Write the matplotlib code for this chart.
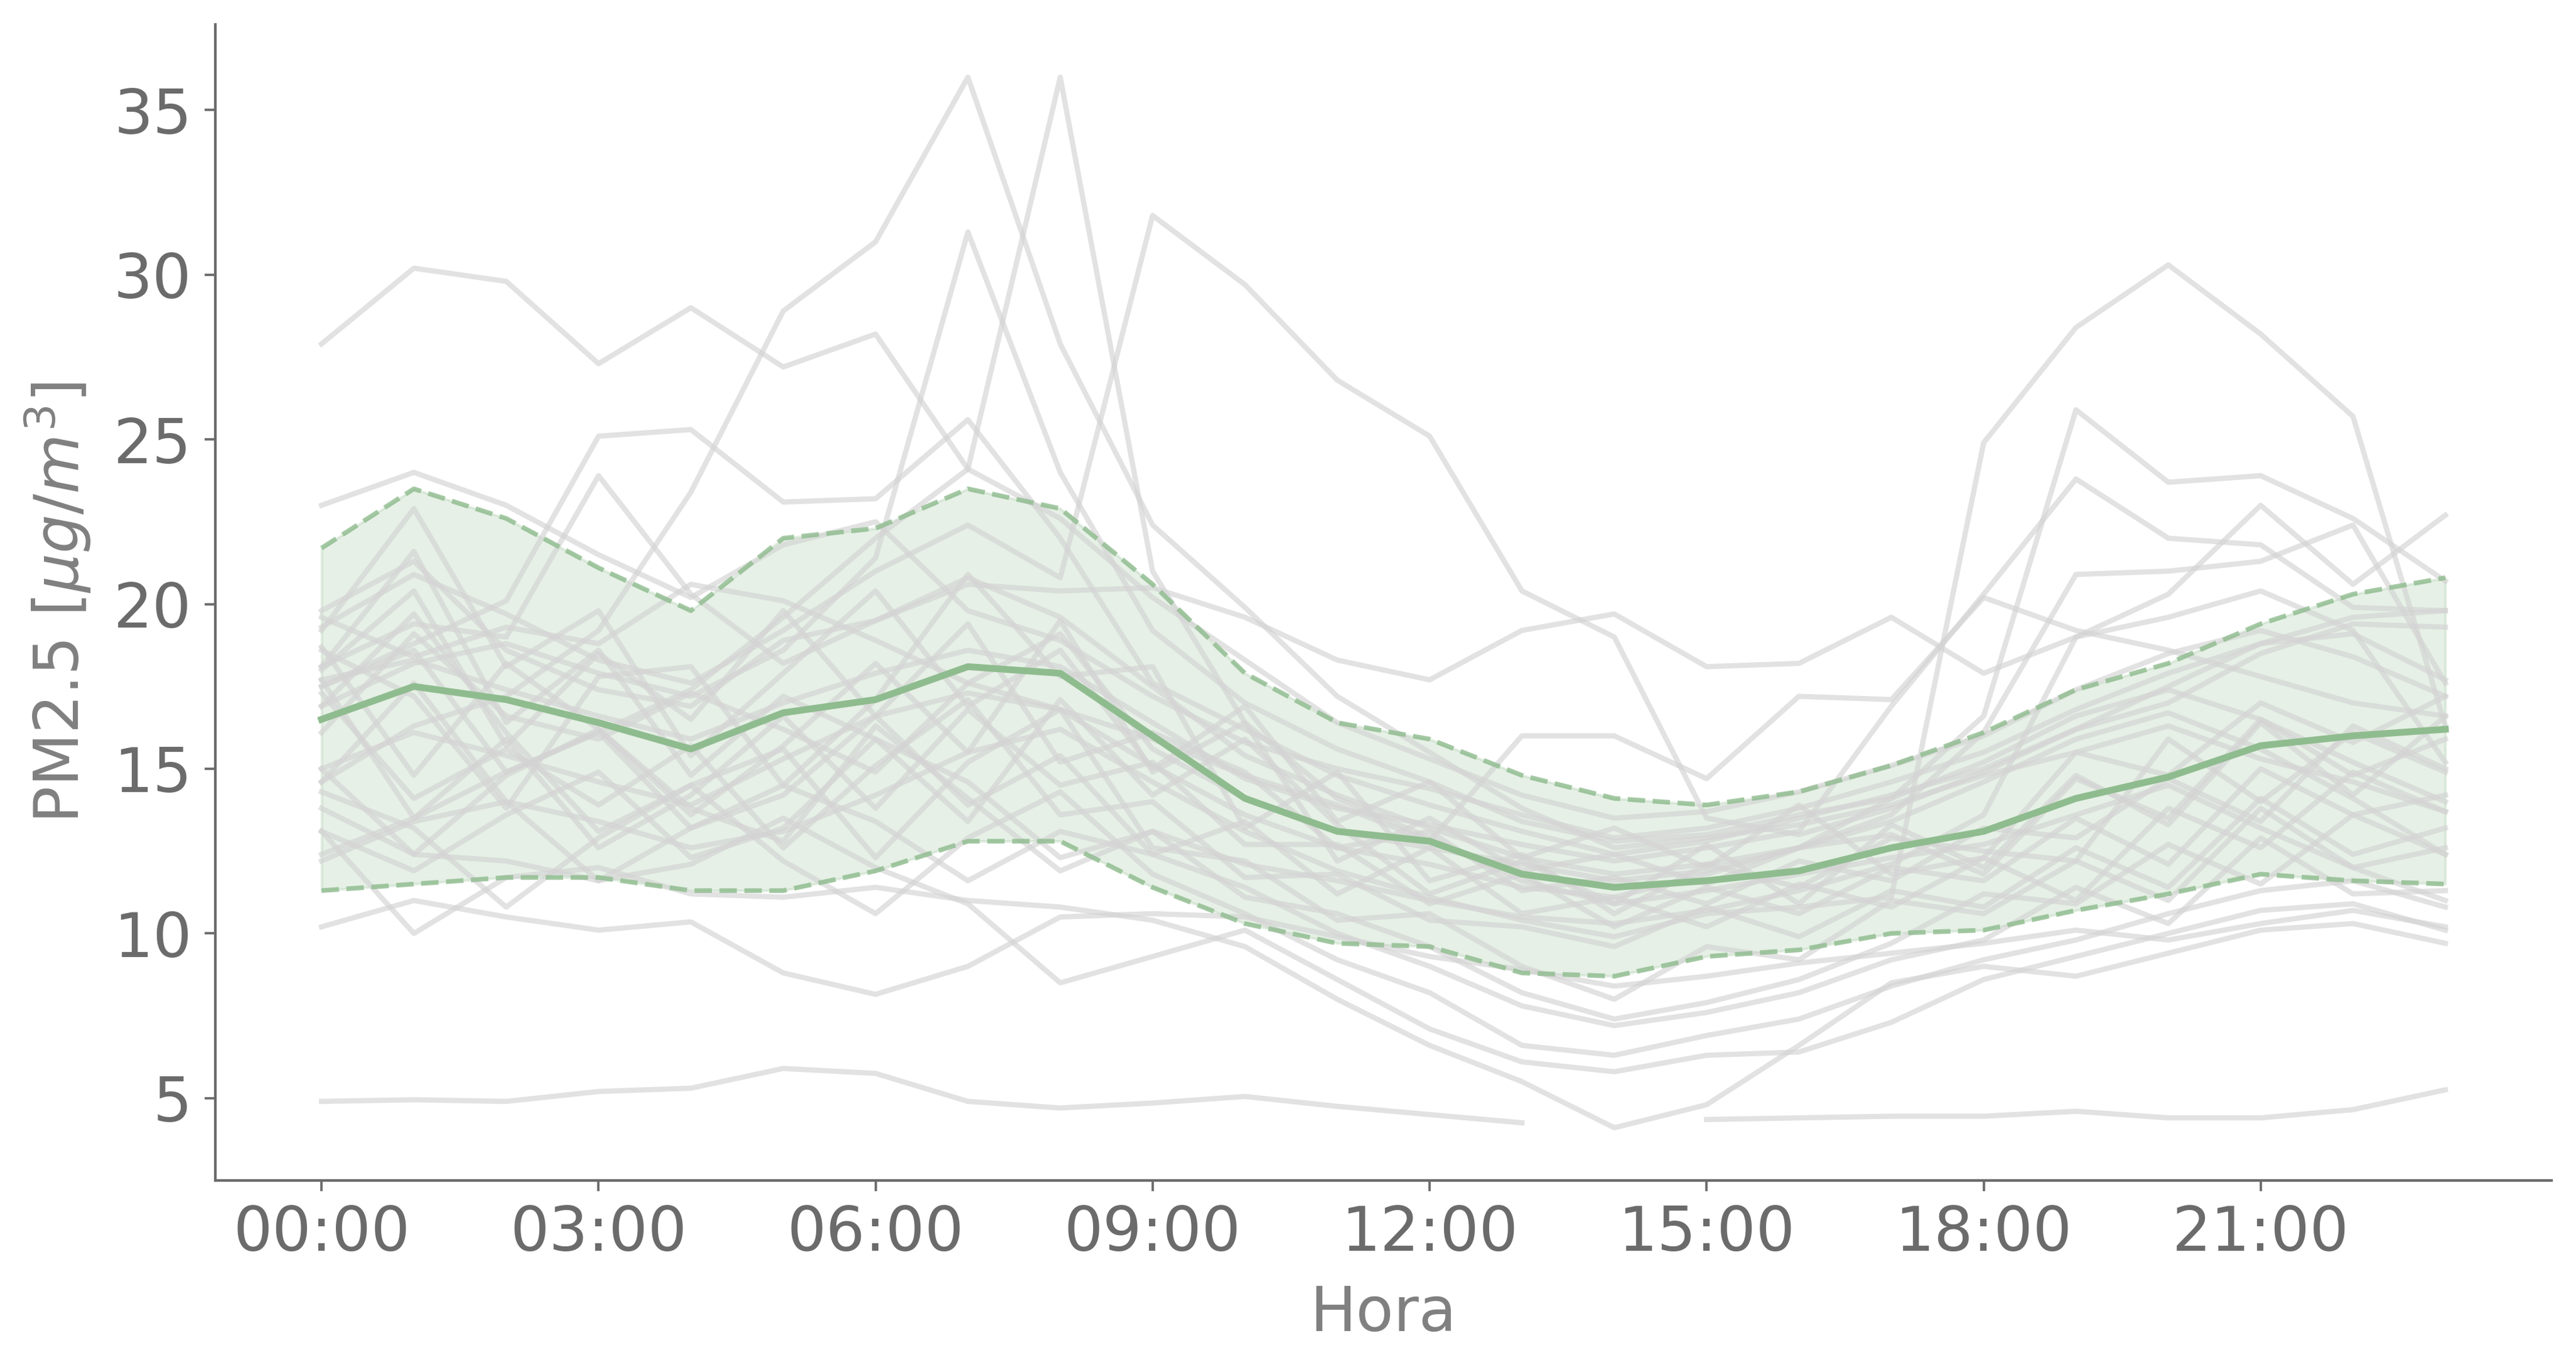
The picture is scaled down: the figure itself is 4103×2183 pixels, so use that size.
import numpy as np
import matplotlib
matplotlib.use("Agg")
import matplotlib.pyplot as plt

# ---------------- data ----------------
hours = list(range(24))
tick_hours = [0, 3, 6, 9, 12, 15, 18, 21]
tick_labels = ["00:00", "03:00", "06:00", "09:00", "12:00", "15:00", "18:00", "21:00"]

mean_pm = [16.5, 17.5, 17.1, 16.4, 15.6, 16.7, 17.1, 18.1, 17.9, 16.0, 14.1, 13.1,
           12.8, 11.8, 11.4, 11.6, 11.9, 12.6, 13.1, 14.1, 14.75, 15.7, 16.0, 16.2]
upper_pm = [21.7, 23.5, 22.6, 21.1, 19.8, 22.0, 22.3, 23.5, 22.9, 20.6, 17.9, 16.4,
            15.9, 14.8, 14.1, 13.9, 14.3, 15.1, 16.1, 17.4, 18.2, 19.4, 20.3, 20.8]
lower_pm = [11.3, 11.5, 11.7, 11.7, 11.3, 11.3, 11.9, 12.8, 12.8, 11.4, 10.3, 9.7,
            9.6, 8.8, 8.7, 9.3, 9.5, 10.0, 10.1, 10.7, 11.2, 11.8, 11.6, 11.5]

dia_01 = [27.9, 30.2, 29.8, 27.3, 29.0, 27.2, 28.2, 24.1, 22.6, 20.2, 18.3, 16.4, 15.3, 14.2, 13.5, 13.7, 14.3, 15.1, 16.0, 17.4, 18.5, 19.2, 18.4, 17.2]
dia_02 = [23.0, 24.0, 23.0, 21.5, 20.2, 21.8, 22.5, 19.8, 18.9, 17.2, 15.8, 15.0, 14.4, 13.6, 12.9, 13.2, 13.8, 14.6, 15.5, 16.8, 17.9, 18.8, 19.1, 17.7]
dia_03 = [17.5, 18.8, 20.1, 25.1, 25.3, 23.1, 23.2, 25.6, 22.0, 17.6, 16.2, 14.8, 13.9, 13.1, 12.4, 12.8, 13.5, 14.2, 15.0, 16.2, 17.0, 18.5, 19.4, 19.3]
dia_04 = [18.1, 19.4, 19.0, 23.9, 20.3, 18.2, 19.5, 20.8, 19.6, 17.5, 15.4, 14.2, 13.2, 12.3, 11.8, 12.1, 12.6, 13.4, 14.6, 15.9, 16.7, 15.6, 14.1, 12.4]
dia_05 = [14.6, 16.3, 17.2, 19.2, 23.4, 28.9, 31.0, 36.0, 27.9, 22.4, 19.9, 17.2, 15.5, 13.8, 12.6, 12.9, 13.3, 13.9, 14.8, 15.5, 16.3, 15.3, 14.6, 13.7]
dia_06 = [12.4, 13.5, 14.9, 16.1, 17.4, 19.6, 22.0, 24.1, 36.0, 21.0, 16.4, 14.1, 12.9, 11.6, 10.9, 11.3, 11.8, 12.3, 12.7, 13.6, 14.5, 13.2, 12.0, 11.0]
dia_07 = [19.3, 20.9, 19.7, 18.3, 17.6, 19.2, 21.0, 22.4, 20.8, 31.8, 29.7, 26.8, 25.1, 20.4, 19.0, 13.5, 13.0, 13.8, 14.9, 16.2, 17.5, 18.8, 19.6, 19.8]
dia_08 = [16.9, 18.2, 18.8, 17.9, 17.2, 18.6, 21.4, 31.3, 24.0, 19.2, 17.0, 15.6, 14.6, 13.4, 12.8, 13.0, 13.6, 14.1, 15.2, 16.6, 17.4, 16.5, 15.2, 14.0]
dia_09 = [12.2, 13.4, 14.0, 13.4, 12.6, 13.1, 14.2, 15.5, 16.2, 14.6, 13.1, 11.9, 11.1, 10.4, 9.9, 10.6, 10.8, 11.1, 24.9, 28.4, 30.3, 28.2, 25.7, 16.3]
dia_10 = [15.0, 16.1, 15.4, 14.6, 13.9, 15.3, 16.6, 17.3, 16.8, 15.1, 13.6, 12.6, 12.1, 11.4, 11.1, 11.8, 12.6, 14.1, 16.6, 25.9, 23.7, 23.9, 22.6, 20.7]
dia_11 = [17.7, 18.3, 17.4, 16.6, 15.9, 17.0, 17.9, 18.6, 18.1, 16.4, 14.7, 13.8, 13.3, 12.7, 12.2, 12.6, 13.1, 16.9, 20.3, 23.8, 22.0, 21.8, 19.9, 19.8]
dia_12 = [13.1, 11.9, 13.6, 14.9, 12.3, 13.2, 15.9, 14.6, 12.3, 13.1, 12.1, 11.6, 11.0, 10.5, 10.3, 10.7, 11.3, 12.1, 13.6, 19.0, 20.3, 23.0, 20.6, 22.7]
dia_13 = [16.1, 19.1, 16.6, 15.9, 17.3, 16.2, 14.9, 17.6, 19.1, 15.6, 14.1, 13.1, 12.6, 12.1, 11.6, 11.9, 12.6, 13.6, 16.1, 20.9, 21.0, 21.3, 22.4, 17.6]
dia_14 = [4.9, 4.95, 4.9, 5.2, 5.3, 5.9, 5.75, 4.9, 4.7, 4.85, 5.05, 4.75, 4.5, 4.25, np.nan, 4.35, 4.4, 4.45, 4.45, 4.6, 4.4, 4.4, 4.65, 5.25]
dia_15 = [10.2, 11.0, 10.5, 10.1, 10.35, 8.8, 8.15, 9.0, 10.5, 10.6, 10.5, 9.9, 9.3, 8.9, 8.4, 8.7, 9.1, 9.4, 9.7, 10.1, 9.8, 10.3, 10.7, 10.2]
dia_16 = [19.8, 21.3, 18.6, 17.4, 16.9, 18.9, 19.5, 20.6, 20.4, 20.5, 19.6, 18.3, 17.7, 19.2, 19.7, 18.1, 18.2, 19.6, 17.9, 19.0, 19.6, 20.4, 19.2, 15.2]
dia_17 = [19.6, 18.4, 19.3, 18.8, 20.6, 20.1, 18.9, 17.6, 16.8, 15.9, 14.8, 13.9, 12.8, 16.0, 16.0, 14.7, 17.2, 17.1, 20.2, 19.2, 18.6, 17.8, 17.0, 16.6]
dia_18 = [19.2, 22.9, 18.1, 19.8, 15.4, 17.9, 20.4, 16.9, 18.6, 15.0, 16.9, 13.4, 14.6, 12.3, 13.2, 12.0, 13.9, 11.8, 12.3, 15.5, 14.8, 17.0, 15.8, 17.2]
dia_19 = [18.7, 14.8, 18.2, 16.2, 13.6, 15.7, 18.2, 15.5, 19.5, 14.9, 16.4, 12.2, 13.5, 11.9, 12.4, 11.5, 12.6, 13.0, 11.8, 14.7, 13.5, 16.5, 14.8, 15.9]
dia_20 = [18.6, 17.2, 13.8, 17.8, 18.1, 14.5, 17.1, 20.9, 17.8, 18.1, 13.2, 14.9, 11.6, 12.4, 10.6, 12.1, 11.4, 12.9, 12.5, 12.2, 15.9, 14.0, 16.1, 14.9]
dia_21 = [18.1, 21.6, 16.4, 18.6, 14.8, 17.2, 15.9, 13.4, 17.1, 14.2, 15.9, 13.3, 11.2, 12.2, 10.9, 12.7, 10.9, 13.3, 12.0, 14.8, 13.3, 16.4, 14.2, 16.6]
dia_22 = [18.0, 20.4, 15.7, 18.5, 16.5, 19.8, 16.6, 19.4, 15.2, 16.1, 14.9, 12.6, 13.1, 11.3, 11.7, 10.9, 12.2, 11.6, 13.2, 12.9, 14.7, 13.4, 16.3, 15.0]
dia_23 = [17.7, 13.5, 15.9, 12.6, 14.2, 16.6, 13.8, 16.8, 14.5, 15.2, 12.7, 12.7, 10.9, 11.8, 10.2, 11.4, 10.6, 12.0, 11.6, 13.5, 12.1, 15.0, 13.6, 14.2]
dia_24 = [17.5, 18.6, 14.9, 16.1, 13.2, 14.2, 16.6, 13.9, 15.4, 12.4, 13.4, 11.2, 12.6, 10.6, 11.1, 10.2, 11.5, 10.8, 12.3, 11.0, 13.8, 12.6, 14.9, 13.7]
dia_25 = [17.3, 14.1, 15.6, 13.9, 15.7, 12.6, 15.1, 17.1, 13.6, 14.0, 11.7, 11.8, 10.4, 10.2, 9.6, 10.8, 9.9, 11.3, 10.8, 12.6, 11.4, 14.1, 12.4, 13.2]
dia_26 = [16.9, 19.7, 16.1, 13.1, 14.5, 15.6, 12.3, 15.2, 16.8, 12.6, 12.2, 10.4, 10.6, 9.0, 8.0, 9.6, 9.2, 11.0, 10.6, 12.2, 11.0, 13.8, 12.0, 12.6]
dia_27 = [15.0, 12.4, 14.8, 16.2, 13.8, 12.8, 16.3, 14.1, 11.9, 13.1, 11.1, 10.6, 9.6, 8.2, 7.4, 7.9, 8.6, 9.7, 11.2, 10.9, 12.7, 11.5, 13.6, 12.4]
dia_28 = [14.6, 17.6, 14.0, 11.6, 13.2, 14.5, 13.4, 11.6, 13.1, 12.4, 11.4, 10.0, 9.0, 7.8, 7.2, 7.6, 8.2, 9.2, 9.8, 11.4, 10.3, 12.9, 11.2, 11.3]
dia_29 = [14.3, 13.2, 10.8, 12.9, 14.5, 12.2, 10.6, 12.9, 14.3, 11.8, 10.6, 9.2, 8.2, 6.6, 6.3, 6.9, 7.4, 8.4, 9.2, 9.8, 10.6, 11.3, 11.6, 10.8]
dia_30 = [13.8, 12.4, 12.2, 11.6, 12.1, 13.5, 12.0, 10.9, 8.5, 9.3, 10.1, 8.6, 7.1, 6.1, 5.8, 6.3, 6.4, 7.3, 8.6, 9.3, 10.0, 10.7, 10.9, 10.1]
dia_31 = [13.1, 10.0, 11.7, 12.0, 11.2, 11.1, 11.4, 11.0, 10.8, 10.4, 9.6, 8.0, 6.6, 5.5, 4.1, 4.8, 6.6, 8.5, 9.0, 8.7, 9.4, 10.1, 10.3, 9.7]

dias = [dia_01, dia_02, dia_03, dia_04, dia_05, dia_06, dia_07, dia_08, dia_09, dia_10,
        dia_11, dia_12, dia_13, dia_14, dia_15, dia_16, dia_17, dia_18, dia_19, dia_20,
        dia_21, dia_22, dia_23, dia_24, dia_25, dia_26, dia_27, dia_28, dia_29, dia_30, dia_31]

# ---------------- style ----------------
GREEN = "#8fbc8f"
AX_COLOR = "#6b6b6b"
LABEL_COLOR = "#808080"

plt.rcParams["font.family"] = ["DejaVu Sans"]

fig = plt.figure(figsize=(4103 / 300, 2183 / 300), dpi=300)
ax = fig.add_axes([0.0836, 0.1385, 0.9069, 0.8435])

ax.fill_between(hours, lower_pm, upper_pm, color=GREEN, alpha=0.22, linewidth=1.0, zorder=1)
for d in dias:
    ax.plot(hours, d, color="#d3d3d3", alpha=0.65, linewidth=2.0, zorder=2)
ax.plot(hours, upper_pm, color=GREEN, alpha=0.8, linestyle="--", linewidth=1.8, zorder=3)
ax.plot(hours, lower_pm, color=GREEN, alpha=0.8, linestyle="--", linewidth=1.8, zorder=3)
ax.plot(hours, mean_pm, color=GREEN, linewidth=2.6, zorder=4)

ax.set_xticks(tick_hours)
ax.set_xticklabels(tick_labels)
ax.set_yticks([5, 10, 15, 20, 25, 30, 35])

for side in ["top", "right"]:
    ax.spines[side].set_visible(False)
for side in ["left", "bottom"]:
    ax.spines[side].set_color(AX_COLOR)
    ax.spines[side].set_linewidth(1.0)

ax.tick_params(axis="both", colors=AX_COLOR, labelsize=23.5, length=4, width=0.9, pad=5)
ax.set_xlabel("Hora", fontsize=23.5, color=LABEL_COLOR, labelpad=8)
ax.set_ylabel(r"PM2.5 [$\mu g/m^3$]", fontsize=23.5, color=LABEL_COLOR, labelpad=8)

fig.savefig("out.png", dpi=300)
